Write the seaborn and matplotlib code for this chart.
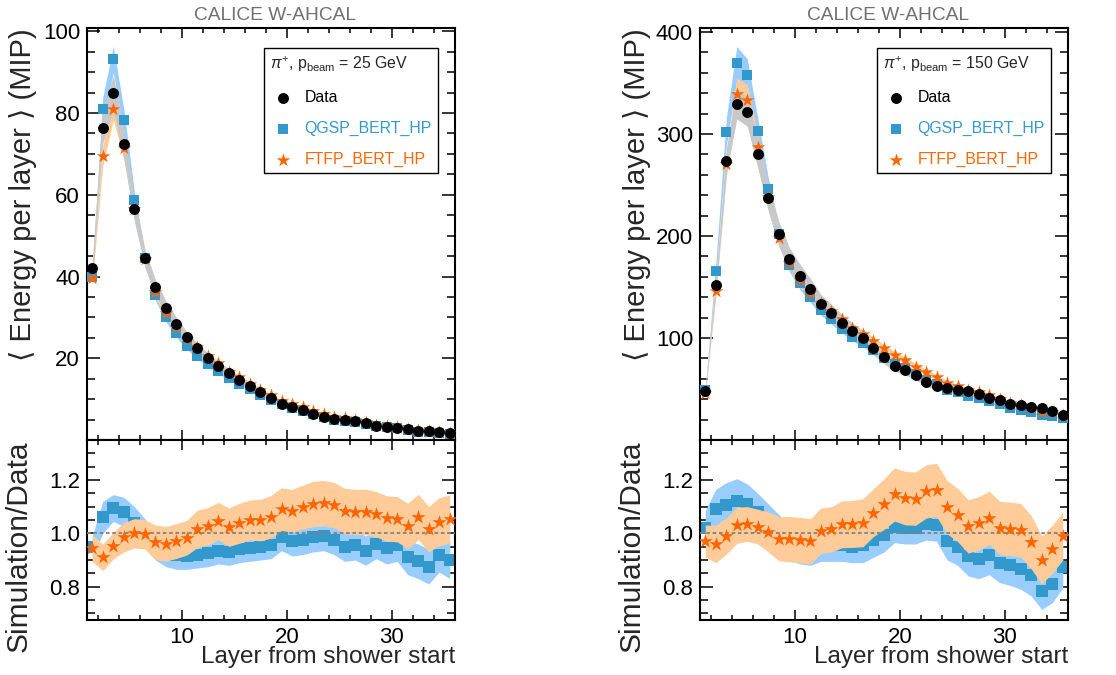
import numpy as np
import pandas as pd
import seaborn as sns
import matplotlib
matplotlib.use('Agg')
import matplotlib.pyplot as plt
from matplotlib.ticker import MultipleLocator, FixedLocator, FormatStrFormatter

# Layer (bin centre) from shower start
layers = [1.5, 2.5, 3.5, 4.5, 5.5, 6.5, 7.5, 8.5, 9.5, 10.5,
          11.5, 12.5, 13.5, 14.5, 15.5, 16.5, 17.5, 18.5, 19.5, 20.5,
          21.5, 22.5, 23.5, 24.5, 25.5, 26.5, 27.5, 28.5, 29.5, 30.5,
          31.5, 32.5, 33.5, 34.5, 35.5]

# ---- 25 GeV ----
data_25 = [42.0, 76.4, 85.0, 72.5, 56.4, 44.5, 37.4, 32.3, 28.4, 25.1,
           22.4, 20.0, 18.0, 16.3, 14.7, 13.1, 11.7, 10.3, 8.8, 8.1,
           7.3, 6.4, 5.7, 5.1, 4.9, 4.6, 4.2, 3.5, 3.3, 3.0,
           2.6, 2.3, 2.1, 1.9, 1.6]
qgsp_25 = [39.9, 81.0, 93.1, 78.3, 58.7, 44.5, 35.5, 30.0, 26.1, 23.0,
           20.6, 18.5, 16.8, 15.2, 13.8, 12.4, 11.1, 9.8, 8.7, 7.9,
           7.1, 6.3, 5.6, 5.0, 4.65, 4.4, 3.9, 3.36, 3.12, 2.87,
           2.37, 2.06, 1.84, 1.75, 1.44]
ftfp_25 = [39.6, 69.5, 81.1, 71.4, 56.4, 44.3, 36.1, 31.0, 27.6, 24.7,
           22.8, 20.5, 18.8, 16.7, 15.3, 13.8, 12.3, 10.9, 9.6, 8.8,
           8.0, 7.1, 6.3, 5.6, 5.3, 5.0, 4.5, 3.75, 3.5, 3.16,
           2.67, 2.44, 2.13, 1.98, 1.69]
# relative half widths of the bands in the upper panel
data_band_25 = [0.05, 0.05, 0.05, 0.05, 0.05, 0.05, 0.05, 0.055, 0.055, 0.055,
                0.06, 0.06, 0.06, 0.06, 0.06, 0.06, 0.06, 0.06, 0.06, 0.06,
                0.06, 0.06, 0.06, 0.06, 0.06, 0.06, 0.06, 0.06, 0.06, 0.06,
                0.06, 0.06, 0.06, 0.06, 0.06]
sim_band_25 = [0.03, 0.035, 0.035, 0.035, 0.035, 0.035, 0.035, 0.035, 0.035, 0.035,
               0.035, 0.035, 0.035, 0.035, 0.035, 0.035, 0.035, 0.035, 0.035, 0.035,
               0.035, 0.035, 0.035, 0.035, 0.035, 0.035, 0.035, 0.035, 0.035, 0.035,
               0.035, 0.035, 0.035, 0.035, 0.035]
qgsp_ratio_25 = [0.95, 1.06, 1.095, 1.08, 1.04, 1.0, 0.95, 0.93, 0.92, 0.915,
                 0.92, 0.925, 0.935, 0.93, 0.94, 0.945, 0.95, 0.955, 0.985, 0.97,
                 0.975, 0.985, 0.99, 0.975, 0.95, 0.955, 0.935, 0.96, 0.945, 0.955,
                 0.91, 0.895, 0.875, 0.92, 0.90]
ftfp_ratio_25 = [0.944, 0.91, 0.954, 0.985, 1.0, 0.996, 0.966, 0.961, 0.971, 0.984,
                 1.017, 1.027, 1.046, 1.023, 1.038, 1.05, 1.05, 1.062, 1.091, 1.085,
                 1.098, 1.11, 1.113, 1.106, 1.084, 1.08, 1.08, 1.072, 1.056, 1.053,
                 1.028, 1.061, 1.016, 1.044, 1.054]
qgsp_rerr_25 = [0.04, 0.06, 0.05, 0.055, 0.06, 0.055, 0.05, 0.055, 0.055, 0.05,
                0.05, 0.05, 0.05, 0.05, 0.05, 0.05, 0.05, 0.05, 0.05, 0.055,
                0.055, 0.055, 0.055, 0.055, 0.055, 0.055, 0.055, 0.055, 0.06, 0.06,
                0.065, 0.065, 0.065, 0.065, 0.07]
ftfp_rerr_25 = [0.05, 0.05, 0.05, 0.055, 0.055, 0.055, 0.065, 0.065, 0.065, 0.065,
                0.07, 0.07, 0.07, 0.072, 0.075, 0.075, 0.078, 0.08, 0.08, 0.08,
                0.082, 0.085, 0.085, 0.085, 0.085, 0.085, 0.085, 0.085, 0.085, 0.085,
                0.085, 0.085, 0.085, 0.09, 0.09]

# ---- 150 GeV ----
data_150 = [47.7, 152.4, 273.1, 329.7, 322.1, 280.6, 237.1, 202.1, 177.2, 161.2,
            148.1, 133.4, 124.2, 114.4, 106.6, 99.7, 90.0, 81.0, 72.8, 69.1,
            63.7, 57.3, 52.9, 51.0, 49.1, 47.6, 45.5, 41.4, 39.3, 35.6,
            34.4, 32.0, 31.0, 28.7, 24.8]
qgsp_150 = [48.7, 166.1, 301.8, 369.3, 357.5, 303.0, 246.6, 202.1, 171.9, 153.9,
            140.7, 127.4, 118.6, 109.3, 101.3, 95.2, 87.8, 80.6, 74.6, 70.5,
            65.0, 59.3, 54.5, 49.5, 46.6, 43.6, 41.2, 38.1, 35.0, 31.3,
            29.8, 27.0, 24.3, 23.2, 21.7]
ftfp_150 = [46.3, 146.3, 270.4, 339.6, 333.4, 287.6, 238.3, 198.1, 173.3, 157.2,
            143.7, 134.7, 126.1, 118.3, 110.3, 103.7, 97.0, 89.9, 83.4, 78.2,
            72.0, 66.3, 61.5, 56.0, 52.5, 48.8, 47.2, 43.8, 40.1, 36.2,
            34.8, 30.9, 27.9, 27.0, 24.6]
data_band_150 = [0.045, 0.045, 0.045, 0.045, 0.045, 0.05, 0.055, 0.06, 0.065, 0.07,
                 0.07, 0.07, 0.07, 0.075, 0.075, 0.075, 0.075, 0.075, 0.075, 0.075,
                 0.075, 0.075, 0.075, 0.075, 0.075, 0.075, 0.075, 0.075, 0.075, 0.075,
                 0.075, 0.075, 0.075, 0.075, 0.075]
sim_band_150 = [0.035, 0.04, 0.045, 0.045, 0.045, 0.04, 0.04, 0.04, 0.04, 0.04,
                0.04, 0.04, 0.04, 0.04, 0.04, 0.04, 0.04, 0.04, 0.04, 0.04,
                0.04, 0.04, 0.04, 0.04, 0.04, 0.04, 0.04, 0.04, 0.04, 0.04,
                0.04, 0.04, 0.04, 0.04, 0.04]
qgsp_ratio_150 = [1.02, 1.09, 1.105, 1.12, 1.11, 1.08, 1.04, 1.0, 0.97, 0.955,
                  0.95, 0.955, 0.955, 0.955, 0.95, 0.955, 0.975, 0.995, 1.025, 1.02,
                  1.02, 1.035, 1.03, 0.97, 0.95, 0.915, 0.905, 0.92, 0.89, 0.88,
                  0.865, 0.845, 0.785, 0.81, 0.875]
ftfp_ratio_150 = [0.971, 0.96, 0.99, 1.03, 1.035, 1.025, 1.005, 0.98, 0.978, 0.975,
                  0.97, 1.01, 1.015, 1.034, 1.035, 1.04, 1.078, 1.11, 1.146, 1.132,
                  1.13, 1.157, 1.163, 1.098, 1.069, 1.026, 1.037, 1.058, 1.02, 1.017,
                  1.012, 0.967, 0.90, 0.94, 0.99]
qgsp_rerr_150 = [0.065, 0.075, 0.085, 0.085, 0.075, 0.07, 0.07, 0.07, 0.07, 0.07,
                 0.07, 0.06, 0.06, 0.06, 0.06, 0.065, 0.065, 0.065, 0.06, 0.06,
                 0.06, 0.06, 0.06, 0.07, 0.07, 0.075, 0.075, 0.075, 0.075, 0.075,
                 0.075, 0.08, 0.07, 0.07, 0.08]
ftfp_rerr_150 = [0.06, 0.07, 0.068, 0.068, 0.065, 0.065, 0.075, 0.083, 0.085, 0.085,
                 0.085, 0.085, 0.085, 0.088, 0.088, 0.09, 0.09, 0.095, 0.1, 0.1,
                 0.1, 0.1, 0.1, 0.1, 0.1, 0.1, 0.1, 0.1, 0.1, 0.1,
                 0.1, 0.1, 0.09, 0.09, 0.09]

# colours
blue = '#3399cc'
blue_band = '#99ccff'
orange = '#ff6600'
orange_band = '#ffcc99'
grey_band = '#c8c8c8'

sns.set_theme(style='ticks')
plt.rcParams['font.family'] = ['Liberation Sans', 'DejaVu Sans']
plt.rcParams['mathtext.fontset'] = 'custom'
plt.rcParams['mathtext.rm'] = 'Liberation Sans'
plt.rcParams['mathtext.it'] = 'Liberation Sans:italic'
plt.rcParams['axes.linewidth'] = 1.5


def style_axes(ax, ylim, ymajor, yminor, xlabels):
    ax.set_xlim(1, 36)
    ax.set_ylim(*ylim)
    ax.xaxis.set_major_locator(FixedLocator([10, 20, 30]))
    ax.xaxis.set_minor_locator(MultipleLocator(2))
    ax.yaxis.set_major_locator(FixedLocator(ymajor))
    ax.yaxis.set_minor_locator(MultipleLocator(yminor))
    ax.tick_params(which='both', direction='in', top=True, right=True, width=1.1,
                   colors='black', labelsize=16, pad=5, labelbottom=xlabels)
    ax.tick_params(axis='x', which='major', length=7.5)
    ax.tick_params(axis='x', which='minor', length=3.8)
    ax.tick_params(axis='y', which='major', length=9.5)
    ax.tick_params(axis='y', which='minor', length=5.5)
    for s in ax.spines.values():
        s.set_color('black')
        s.set_linewidth(1.5)
    ax.set_xlabel('')
    ax.set_ylabel('')


def draw_energy(ax, data, qgsp, ftfp, data_band, sim_band, beam):
    df = pd.DataFrame({'layer': layers, 'data': data, 'qgsp': qgsp, 'ftfp': ftfp})
    d, q, f = np.array(data), np.array(qgsp), np.array(ftfp)
    db, sb = np.array(data_band), np.array(sim_band)
    ax.fill_between(layers, q * (1 - sb), q * (1 + sb), color=blue_band, lw=0, zorder=1)
    ax.fill_between(layers, f * (1 - sb), f * (1 + sb), color=orange_band, lw=0, zorder=1.1)
    ax.fill_between(layers, d * (1 - db), d * (1 + db), color=grey_band, lw=0, zorder=1.2)
    sns.scatterplot(data=df, x='layer', y='qgsp', marker='s', s=58, color=blue,
                    linewidth=0, label='QGSP_BERT_HP', ax=ax, zorder=3)
    sns.scatterplot(data=df, x='layer', y='ftfp', marker='*', s=105, color=orange,
                    linewidth=0, label='FTFP_BERT_HP', ax=ax, zorder=4)
    sns.scatterplot(data=df, x='layer', y='data', marker='o', s=62, color='black',
                    linewidth=0, label='Data', ax=ax, zorder=5)

    handles, labels = ax.get_legend_handles_labels()
    order = [labels.index(n) for n in ['Data', 'QGSP_BERT_HP', 'FTFP_BERT_HP']]
    leg = ax.legend([handles[i] for i in order], [labels[i] for i in order],
                    title=r'$\pi^{+}$, p$_{\mathrm{beam}}$ = ' + beam + ' GeV',
                    loc='upper right', bbox_to_anchor=(0.954, 0.951), borderaxespad=0,
                    fontsize=11.4, title_fontsize=11.4, alignment='left',
                    frameon=True, fancybox=False, framealpha=1, edgecolor='black',
                    borderpad=0.4, labelspacing=1.0, handlelength=1.6,
                    handletextpad=0.55, labelcolor=['black', blue, orange])
    leg.get_frame().set_linewidth(1.0)
    ax.set_title('CALICE W-AHCAL', color='#707070', fontsize=13.8, pad=5.8, x=0.51)


def draw_ratio(ax, q_ratio, f_ratio, q_err, f_err):
    df = pd.DataFrame({'layer': layers, 'qgsp': q_ratio, 'ftfp': f_ratio})
    q, f = np.array(q_ratio), np.array(f_ratio)
    qe, fe = np.array(q_err), np.array(f_err)
    ax.fill_between(layers, q - qe, q + qe, color=blue_band, lw=0, zorder=1)
    sns.scatterplot(data=df, x='layer', y='qgsp', marker='s', s=80, color=blue,
                    linewidth=0, ax=ax, zorder=2)
    ax.fill_between(layers, f - fe, f + fe, color=orange_band, lw=0, zorder=3)
    ax.axhline(1.0, color='#808080', lw=1.3, ls=(0, (2, 1.5)), zorder=4)
    sns.scatterplot(data=df, x='layer', y='ftfp', marker='*', s=115, color=orange,
                    linewidth=0, ax=ax, zorder=5)


fig = plt.figure(figsize=(11.16, 6.75), dpi=100)

panels = [
    (87, data_25, qgsp_25, ftfp_25, data_band_25, sim_band_25, '25',
     (0, 100.8), [20, 40, 60, 80, 100], 5,
     qgsp_ratio_25, ftfp_ratio_25, qgsp_rerr_25, ftfp_rerr_25, -0.135),
    (700, data_150, qgsp_150, ftfp_150, data_band_150, sim_band_150, '150',
     (0, 404), [100, 200, 300, 400], 20,
     qgsp_ratio_150, ftfp_ratio_150, qgsp_rerr_150, ftfp_rerr_150, -0.133),
]

for (x0, data, qgsp, ftfp, dband, sband, beam, ylim, ymajor, yminor,
     qr, fr, qre, fre, ylab_x) in panels:
    left = x0 / 1116
    width = 368 / 1116
    ax_top = fig.add_axes([left, 1 - 440 / 675, width, 412 / 675])
    ax_bot = fig.add_axes([left, 1 - 620 / 675, width, 180 / 675])

    draw_energy(ax_top, data, qgsp, ftfp, dband, sband, beam)
    style_axes(ax_top, ylim, ymajor, yminor, False)
    ax_top.set_ylabel('\u27e8 Energy per layer \u27e9 (MIP)', fontsize=21, loc='top')
    ax_top.yaxis.set_label_coords(ylab_x, 1.0)

    draw_ratio(ax_bot, qr, fr, qre, fre)
    style_axes(ax_bot, (0.675, 1.35), [0.8, 1.0, 1.2], 0.05, True)
    ax_bot.yaxis.set_major_formatter(FormatStrFormatter('%.1f'))
    ax_bot.set_ylabel('Simulation/Data', fontsize=21.5, loc='top')
    ax_bot.yaxis.set_label_coords(-0.147, 1.0)

    fig.text((x0 + 368) / 1116, 12 / 675, 'Layer from shower start',
             ha='right', va='baseline', fontsize=17.5)

fig.savefig('out.png', dpi=100)
